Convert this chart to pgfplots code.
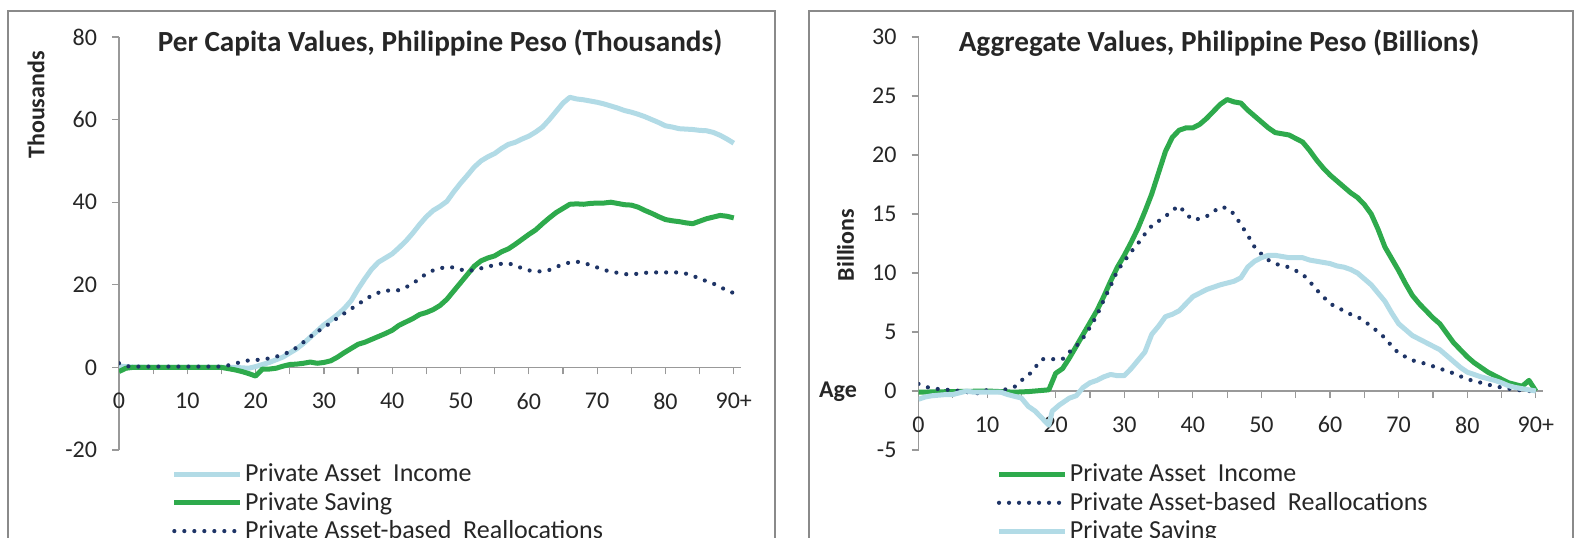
\documentclass[border=0pt]{standalone}
\usepackage{fontspec}
\setmainfont{Carlito}
\usepackage{pgfplots}
\pgfplotsset{compat=1.18}
\definecolor{lblue}{HTML}{B2DBE6}
\definecolor{dgreen}{HTML}{2EAA4C}
\definecolor{navy}{HTML}{1E3466}
\definecolor{framegray}{HTML}{8A8A8A}
\definecolor{axgray}{HTML}{999999}
\definecolor{txt}{HTML}{262626}

\pgfplotsset{
  myax/.style={
    scale only axis,
    height=206.5pt,
    xmin=0, xmax=91,
    axis x line=middle, axis y line=left,
    axis line style={-, axgray, line width=0.6pt},
    hide obscured x ticks=false, hide obscured y ticks=false,
    xtick={0,5,...,90},
    xticklabels={0,,10,,20,,30,,40,,50,,60,,70,,80,,90+},
    tick align=outside, major tick length=3.5pt,
    tick style={axgray, line width=0.6pt},
    ticklabel style={font=\fontsize{12}{14}\selectfont, text=txt},
    xticklabel style={yshift=-5.8pt},
    yticklabel style={xshift=-4pt},
    legend cell align=left,
    legend image code/.code={\draw[##1] (0pt,0pt) -- (33pt,0pt);},
    legend style={draw=none, fill=none, inner sep=0pt, outer sep=0pt,
      anchor=north west, row sep=1.3pt,
      font=\fontsize{13}{15}\selectfont, text=txt,
      nodes={inner sep=1.2pt},
      /tikz/every even column/.append style={column sep=2pt}},
  },
  sblue/.style={color=lblue, line width=2.5pt, line join=round},
  sgreen/.style={color=dgreen, line width=2.5pt, line join=round},
  sdot/.style={color=navy, line width=2.1pt, line cap=round, dash pattern=on 0pt off 5pt},
}

\begin{document}
\begin{tikzpicture}
\useasboundingbox (0,0) rectangle (788.5pt,268.5pt);
\clip (0,0) rectangle (788.5pt,268.5pt);
% frames
\draw[framegray, line width=1pt] (4pt,-10pt) -- (4pt,263.2pt) -- (387.5pt,263.2pt) -- (387.5pt,-10pt);
\draw[framegray, line width=1pt] (404.5pt,-10pt) -- (404.5pt,263.2pt) -- (786.5pt,263.2pt) -- (786.5pt,-10pt);

% ---------------- left panel ----------------
\begin{axis}[myax, at={(59.5pt,43.5pt)}, anchor=south west,
  width=310.8pt, ymin=-20, ymax=80,
  ytick={-20,0,20,40,60,80}, yticklabels={-20,0,20,40,60,80},
  legend style={at={(axis description cs:0.085,-0.028)}}]
\addplot[sblue] coordinates {
(0,0.3)(2,0.1)(5,0)(10,0)(15,0)(17,0)(19,-0.2)(20,0.2)(22,1.2)(24,2.5)(26,4.5)(27,5.8)(28,7.3)(29,8.8)
(30,10.3)(31,11.5)(32,12.8)(33,14.3)(34,16.2)(35,19)(36,21.5)(37,23.8)(38,25.5)(39,26.5)
(40,27.5)(41,29)(42,30.6)(43,32.5)(44,34.6)(45,36.5)(46,38)(47,39)(48,40.2)(49,42.5)
(50,44.6)(51,46.5)(52,48.5)(53,50)(54,51)(55,51.8)(56,53)(57,54)(58,54.5)(59,55.3)
(60,56)(61,57)(62,58.2)(63,60)(64,62)(65,64)(66,65.4)(67,65)(68,64.8)(69,64.5)
(70,64.2)(71,63.8)(72,63.3)(73,62.8)(74,62.2)(75,61.8)(76,61.3)(77,60.7)(78,60)(79,59.3)
(80,58.5)(81,58.2)(82,57.8)(83,57.7)(84,57.6)(85,57.4)(86,57.3)(87,56.9)(88,56.2)(89,55.3)(90,54.3)
};
\addlegendentry{Private Asset\ \ Income}
\addplot[sgreen] coordinates {
(0,-1)(1,-0.2)(2,0)(5,0)(10,0)(15,0)(16,-0.3)(17,-0.6)(18,-1)(19,-1.5)(20,-2.1)(21,-0.4)(22,-0.4)(23,-0.2)(24,0.3)
(25,0.7)(26,0.8)(27,1)(28,1.3)(29,1)(30,1.2)(31,1.6)(32,2.5)(33,3.6)(34,4.6)(35,5.6)(36,6.1)(37,6.8)(38,7.5)(39,8.2)
(40,9)(41,10.2)(42,11)(43,11.8)(44,12.8)(45,13.3)(46,14)(47,15)(48,16.5)(49,18.5)
(50,20.5)(51,22.5)(52,24.5)(53,25.8)(54,26.5)(55,27)(56,28)(57,28.7)(58,29.8)(59,31)
(60,32.2)(61,33.3)(62,34.8)(63,36.2)(64,37.5)(65,38.5)(66,39.5)(67,39.6)(68,39.5)(69,39.7)
(70,39.8)(71,39.8)(72,40)(73,39.7)(74,39.4)(75,39.3)(76,38.8)(77,38)(78,37.3)(79,36.5)
(80,35.8)(81,35.5)(82,35.3)(83,35)(84,34.8)(85,35.4)(86,36)(87,36.4)(88,36.8)(89,36.6)(90,36.2)
};
\addlegendentry{Private Saving}
\addplot[sdot] coordinates {
(0,1)(1,0.3)(2,0.2)(5,0.2)(10,0.2)(15,0.2)(16,0.5)(17,0.9)(18,1.4)(19,1.7)(20,1.8)(21,1.9)(22,2.2)(23,2.6)(24,3.1)
(25,3.8)(26,4.8)(27,6.1)(28,7.4)(29,8.6)(30,9.7)(31,10.8)(32,12)(33,13.1)(34,14.2)(35,15.3)(36,16.4)(37,17.4)(38,18.1)(39,18.6)
(40,18.6)(41,18.7)(42,19.4)(43,20.3)(44,21.5)(45,22.7)(46,23.5)(47,24)(48,24.3)(49,24.2)
(50,23.7)(51,23.3)(52,23.6)(53,24)(54,24.4)(55,24.8)(56,25.1)(57,25.2)(58,24.7)(59,24)
(60,23.5)(61,23.2)(62,23.3)(63,23.6)(64,24.3)(65,25)(66,25.4)(67,25.6)(68,25.3)(69,24.8)
(70,24.2)(71,23.6)(72,23.2)(73,22.9)(74,22.6)(75,22.5)(76,22.7)(77,22.9)(78,23)(79,23)
(80,23)(81,23)(82,23)(83,22.7)(84,22.2)(85,21.5)(86,20.9)(87,20.3)(88,19.5)(89,18.6)(90,18)
};
\addlegendentry{Private Asset-based\ \ Reallocations}
\end{axis}

% ---------------- right panel ----------------
\begin{axis}[myax, at={(459.25pt,43.5pt)}, anchor=south west,
  width=312.1pt, ymin=-5, ymax=30,
  ytick={-5,0,5,10,15,20,25,30}, yticklabels={-5,0,5,10,15,20,25,30},
  legend style={at={(axis description cs:0.125,-0.028)}}]
\addplot[sgreen] coordinates {
(0,-0.1)(5,-0.05)(10,0)(14,-0.1)(16,-0.05)(18,0.05)(19,0.1)(20,1.5)(21,1.9)(22,2.8)(23,3.8)(24,4.8)
(25,5.8)(26,6.8)(27,8)(28,9.3)(29,10.5)(30,11.5)(31,12.6)(32,13.8)(33,15.2)(34,16.7)(35,18.5)(36,20.3)(37,21.5)(38,22.1)(39,22.3)
(40,22.3)(41,22.6)(42,23.1)(43,23.7)(44,24.3)(45,24.7)(46,24.5)(47,24.4)(48,23.8)(49,23.3)
(50,22.8)(51,22.3)(52,21.9)(53,21.8)(54,21.7)(55,21.4)(56,21.1)(57,20.4)(58,19.6)(59,18.9)
(60,18.3)(61,17.8)(62,17.3)(63,16.8)(64,16.4)(65,15.8)(66,15)(67,13.7)(68,12.2)(69,11.2)
(70,10.2)(71,9.1)(72,8.1)(73,7.4)(74,6.8)(75,6.2)(76,5.7)(77,4.9)(78,4.1)(79,3.5)
(80,2.9)(81,2.4)(82,2)(83,1.6)(84,1.3)(85,1)(86,0.7)(87,0.55)(88,0.4)(89,0.9)(90,0)
};
\addlegendentry{Private Asset\ \ Income}
\addplot[sdot] coordinates {
(0,0.6)(1,0.35)(2,0.25)(3,0.15)(4,0.1)(5,0.1)(6,0)(7,-0.1)(8,-0.1)(9,-0.25)(10,0.1)(11,-0.1)(12,0)(13,0.2)(14,0.35)
(15,0.9)(16,1.3)(17,2)(18,2.7)(19,2.7)(20,2.7)(21,2.7)(22,3.3)(23,3.8)(24,4.5)
(25,5.4)(26,6.4)(27,7.7)(28,8.9)(29,10.2)(30,11)(31,11.8)(32,12.5)(33,13.3)(34,14)(35,14.4)(36,14.8)(37,15.3)(38,15.7)(39,15)
(40,14.5)(41,14.6)(42,14.8)(43,15.2)(44,15.6)(45,15.5)(46,15)(47,14.1)(48,13.2)(49,12.2)
(50,11.6)(51,11.1)(52,10.8)(53,10.6)(54,10.5)(55,10.2)(56,9.9)(57,9.3)(58,8.6)(59,8)
(60,7.4)(61,7.1)(62,6.8)(63,6.5)(64,6.3)(65,5.9)(66,5.5)(67,5)(68,4.5)(69,3.8)
(70,3.2)(71,2.9)(72,2.6)(73,2.45)(74,2.3)(75,2.1)(76,1.9)(77,1.7)(78,1.5)(79,1.25)
(80,1)(81,0.85)(82,0.7)(83,0.55)(84,0.4)(85,0.3)(86,0.2)(87,0.1)(88,0.05)(89,0)(90,0)
};
\addlegendentry{Private Asset-based\ \ Reallocations}
\addplot[sblue] coordinates {
(0,-0.7)(1,-0.5)(2,-0.4)(3,-0.35)(4,-0.3)(5,-0.3)(6,-0.15)(7,0)(8,-0.1)(9,-0.1)(10,-0.1)(11,-0.1)(12,-0.1)(13,-0.3)(14,-0.45)
(15,-0.6)(16,-1.3)(17,-1.7)(18,-2.3)(19,-2.9)(19.5,-1.7)(20.5,-1.2)(22,-0.6)(23,-0.4)(24,0.3)
(25,0.7)(26,0.9)(27,1.2)(28,1.4)(29,1.3)(30,1.3)(31,1.9)(32,2.6)(33,3.3)(34,4.8)(35,5.5)(36,6.3)(37,6.5)(38,6.8)(39,7.4)
(40,8)(41,8.3)(42,8.6)(43,8.8)(44,9)(45,9.15)(46,9.3)(47,9.6)(48,10.5)(49,11)
(50,11.3)(51,11.5)(52,11.5)(53,11.4)(54,11.3)(55,11.3)(56,11.3)(57,11.1)(58,11)(59,10.9)
(60,10.8)(61,10.6)(62,10.5)(63,10.3)(64,10)(65,9.5)(66,9)(67,8.3)(68,7.6)(69,6.6)
(70,5.7)(71,5.2)(72,4.7)(73,4.4)(74,4.1)(75,3.8)(76,3.5)(77,3)(78,2.5)(79,2)
(80,1.6)(81,1.4)(82,1.2)(83,1.05)(84,0.9)(85,0.7)(86,0.45)(87,0.3)(88,0.2)(89,0.1)(90,0)
};
\addlegendentry{Private Saving}
\end{axis}

% titles and labels
\node[anchor=base, font=\bfseries\fontsize{14.6}{17}\selectfont, text=txt] at (220pt,243pt) {Per Capita Values, Philippine Peso (Thousands)};
\node[anchor=base, font=\bfseries\fontsize{14.6}{17}\selectfont, text=txt] at (609.5pt,243pt) {Aggregate Values, Philippine Peso (Billions)};
\node[rotate=90, font=\bfseries\fontsize{12}{14}\selectfont, text=txt] at (18pt,216pt) {Thousands};
\node[rotate=90, font=\bfseries\fontsize{12}{14}\selectfont, text=txt] at (422.75pt,146pt) {Billions};
\node[font=\bfseries\fontsize{12}{14}\selectfont, text=txt] at (419pt,72.5pt) {Age};
\end{tikzpicture}
\end{document}
